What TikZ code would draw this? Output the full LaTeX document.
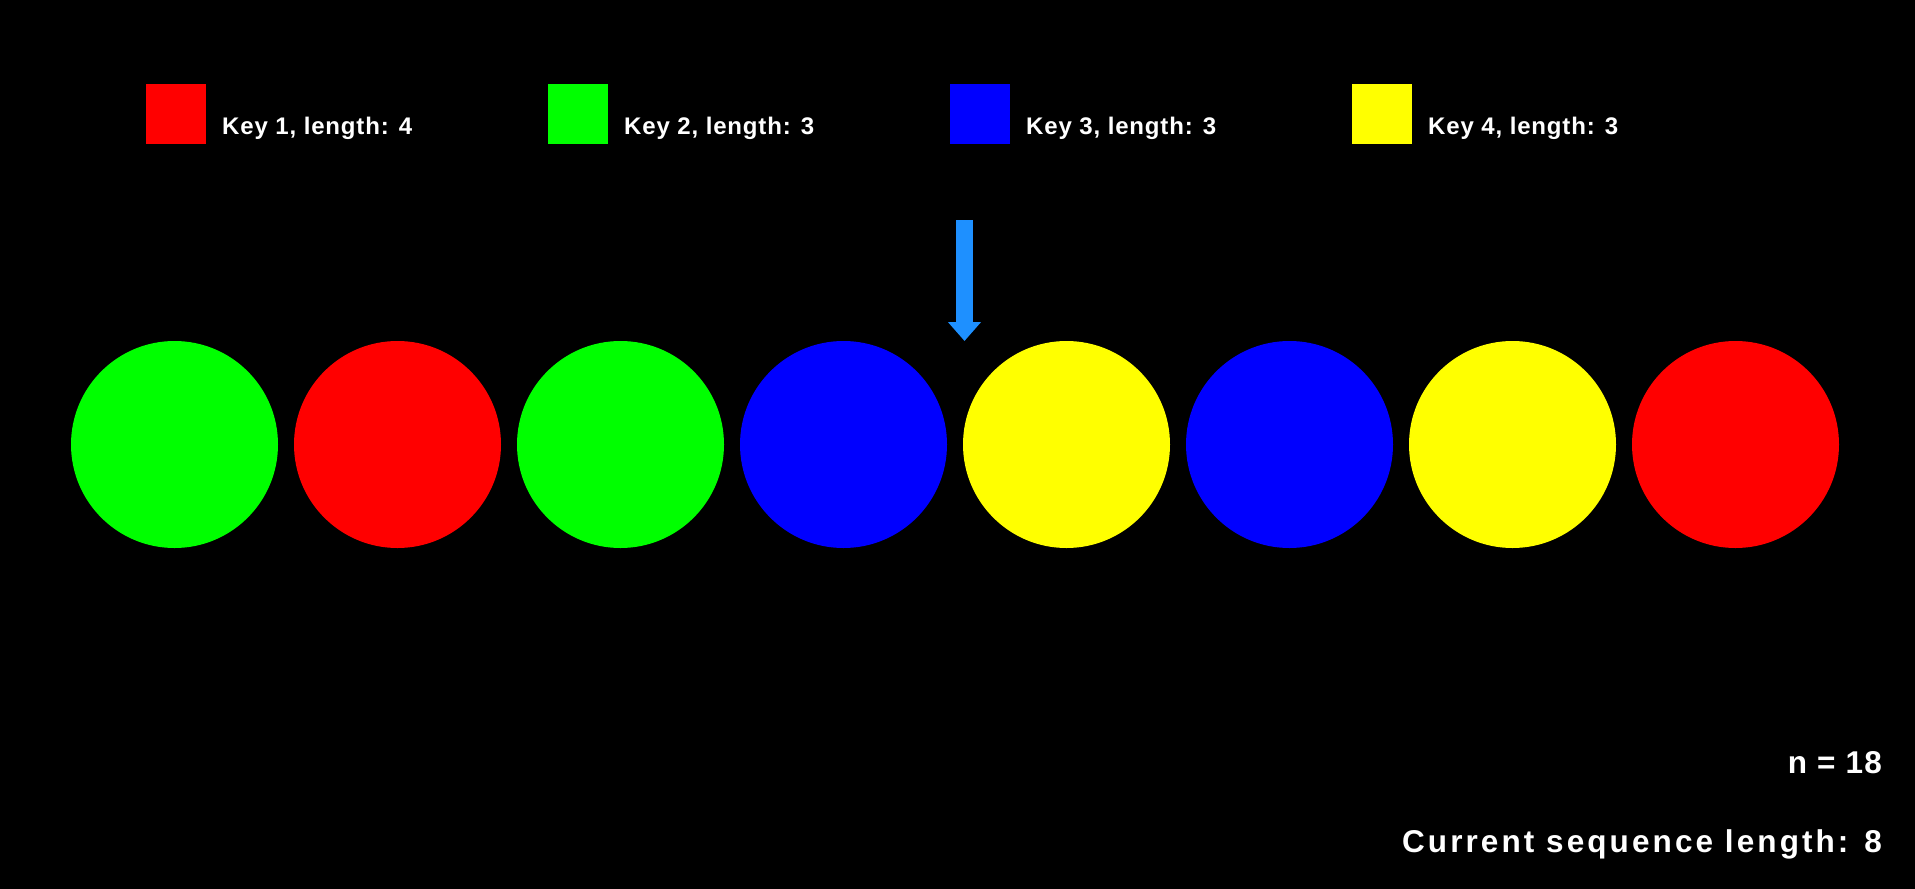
\documentclass[tikz,border=0pt]{standalone}
\usepackage{fontspec}
\setmainfont{Liberation Sans}
\newfontfamily\keyfont[LetterSpace=3.5]{Liberation Sans}
\newfontfamily\infofont[LetterSpace=9.8]{Liberation Sans}
\newfontfamily\nfont[LetterSpace=4]{Liberation Sans}
\usetikzlibrary{arrows.meta}
\definecolor{kred}{RGB}{255,0,0}
\definecolor{kgreen}{RGB}{0,255,0}
\definecolor{kblue}{RGB}{0,0,255}
\definecolor{kyellow}{RGB}{255,255,0}
\definecolor{ptr}{RGB}{30,144,255}
\tikzset{
  ball/.style={circle, minimum size=207pt, inner sep=0pt, outer sep=0pt, draw=none},
  keybox/.style={rectangle, minimum size=60pt, inner sep=0pt, draw=none, anchor=north west},
  keytext/.style={anchor=base west, inner sep=0pt, text=white, font=\keyfont\bfseries\fontsize{24}{28}\selectfont},
  infotext/.style={anchor=base east, inner sep=0pt, text=white},
  pointer/.style={draw=ptr, line width=17pt, -{Triangle[width=32pt,length=19pt]}}
}
\begin{document}
\begin{tikzpicture}[x=1pt,y=-1pt]
\fill[black] (0,0) rectangle (1915,889);
\useasboundingbox (0,0) rectangle (1915,889);
% legend
\node[keybox, fill=kred]    (k1) at (146,84) {};
\node[keybox, fill=kgreen]  (k2) at (548,84) {};
\node[keybox, fill=kblue]   (k3) at (950,84) {};
\node[keybox, fill=kyellow] (k4) at (1352,84) {};
\node[keytext] (t1) at (222,134) {Key 1, length: 4};
\node[keytext] (t2) at (624,134) {Key 2, length: 3};
\node[keytext] (t3) at (1026,134) {Key 3, length: 3};
\node[keytext] (t4) at (1428,134) {Key 4, length: 3};
% balls
\node[ball, fill=kgreen]  (c1) at (174.5,444.5) {};
\node[ball, fill=kred]    (c2) at (397.5,444.5) {};
\node[ball, fill=kgreen]  (c3) at (620.5,444.5) {};
\node[ball, fill=kblue]   (c4) at (843.5,444.5) {};
\node[ball, fill=kyellow] (c5) at (1066.5,444.5) {};
\node[ball, fill=kblue]   (c6) at (1289.5,444.5) {};
\node[ball, fill=kyellow] (c7) at (1512.5,444.5) {};
\node[ball, fill=kred]    (c8) at (1735.5,444.5) {};
% pointer
\coordinate (ptop) at (964.5,220);
\coordinate (ptip) at (964.5,341);
\draw[pointer] (ptop) -- (ptip);
% info
\node[infotext, font=\nfont\bfseries\fontsize{31.5}{36}\selectfont] (n) at (1882,773) {n = 18};
\node[infotext, font=\infofont\bfseries\fontsize{31.5}{36}\selectfont] (len) at (1882,852.5) {Current sequence length: 8};
\end{tikzpicture}
\end{document}
